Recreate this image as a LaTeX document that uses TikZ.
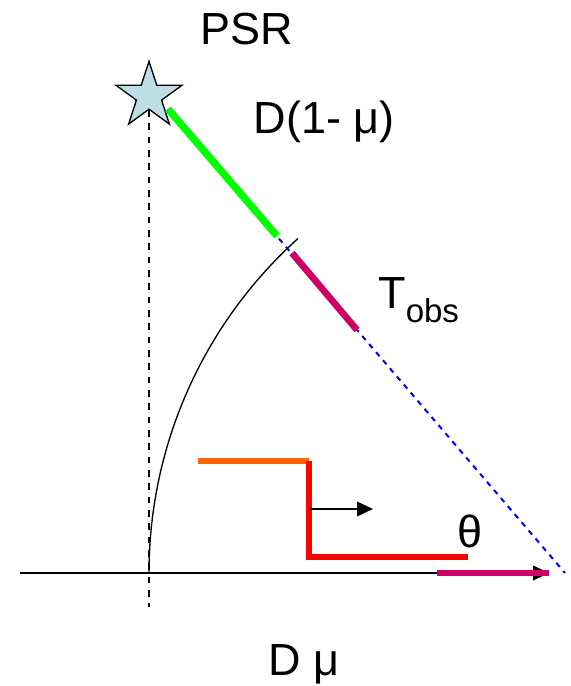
\documentclass[tikz,border=0pt]{standalone}
\usepackage{fontspec}
\setmainfont{Liberation Sans}
\usepackage{tikz}
\usepackage{xcolor}
\usetikzlibrary{shapes.geometric, arrows.meta, positioning, calc}
\definecolor{pulsar}{RGB}{188,222,228}
\definecolor{grass}{HTML}{00FF00}
\definecolor{berry}{HTML}{CC0066}
\definecolor{tangerine}{HTML}{FF6600}
\tikzstyle{lbl} = [font=\fontsize{33.75}{40}\selectfont, inner sep=0pt, anchor=base]
\tikzstyle{arrow} = [-{Triangle[length=12pt, width=11pt]}, line width=1.5pt]
\tikzstyle{seg} = [line width=5pt]

\begin{document}
\begin{tikzpicture}[x=0.75pt, y=-0.75pt]
    \useasboundingbox (0,0) rectangle (571,686);

    % Line of sight
    \coordinate (los) at (168,109);
    \coordinate (losend) at (565,573);
    \draw[blue, line width=1.5pt, dash pattern=on 4pt off 4pt] (los) -- (losend);

    % Pulsar
    \draw[line width=1.2pt, dash pattern=on 5pt off 5pt] (149,110) -- (149,607);
    \node[star, star points=5, star point ratio=2.618, minimum size=52pt, inner sep=0pt,
          draw=black, fill=pulsar, line width=1pt] (psr) at (149,96) {};
    \node[lbl] (psrlabel) at (247,44) {PSR};

    % Distance segments
    \coordinate (g1) at (277,236);
    \coordinate (m0) at (292,253);
    \coordinate (m1) at (357,330);
    \draw[seg, grass, line width=5.5pt] (los) -- (g1);
    \draw[seg, berry] (m0) -- (m1);
    \node[lbl] (dlabel) at (324,133) {D(1- μ)};
    \node[lbl, anchor=base west] (tobs) at (378,308) {T\raisebox{-10.5pt}{\fontsize{24.75}{30}\selectfont obs}};

    % Arc
    \coordinate (origin) at (149,573);
    \draw[line width=1pt] (origin) arc[start angle=180, end angle=228, radius=450];

    % Axis
    \coordinate (axstart) at (20,573);
    \coordinate (axend) at (549,573);
    \coordinate (b0) at (437,573);
    \draw[arrow] (axstart) -- (axend);
    \draw[seg, berry] (b0) -- (axend);
    \node[lbl] (theta) at (470,547) {θ};
    \node[lbl, anchor=base west] (dmu) at (268,675) {D μ};

    % Step
    \coordinate (s0) at (198,461);
    \coordinate (s1) at (309,461);
    \coordinate (s2) at (309,557);
    \coordinate (s3) at (468,557);
    \draw[seg, tangerine, line width=4pt] (s0) -- (s1);
    \draw[seg, red, line width=4pt] (s1) -- (s2) -- (s3);
    \coordinate (p0) at (309,509);
    \coordinate (p1) at (373,509);
    \draw[arrow, line width=1.2pt] (p0) -- (p1);
\end{tikzpicture}
\end{document}
